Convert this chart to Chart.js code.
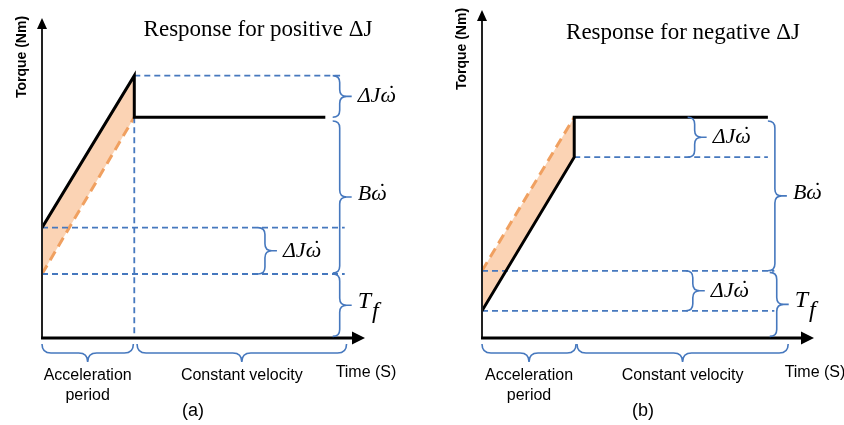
<!DOCTYPE html>
<html><head><meta charset="utf-8">
<script src="https://cdn.jsdelivr.net/npm/chart.js@4/dist/chart.umd.min.js"></script>
<style>
html,body{margin:0;padding:0;background:#fff;}
#wrap{position:relative;width:844px;height:425px;overflow:hidden;}
.panel{position:absolute;top:0;width:422px;height:425px;}
</style></head><body>
<div id="wrap">
<div class="panel" style="left:0"><canvas id="ca" width="422" height="425"></canvas></div>
<div class="panel" style="left:422px"><canvas id="cb" width="422" height="425"></canvas></div>
</div>
<script>
// ================= DATA =================
// Panel (a): response for positive ΔJ
const aTitle = "Response for positive \u0394J";
const aActualTime   = [0, 1, 1, 3.07];
const aActualTorque = [3.45, 8.2, 6.9, 6.9];
const aNominalTime   = [0, 1];
const aNominalTorque = [2.0, 6.9];
// guide lines: [t0, torque0, t1, torque1]
const aGuides = [[1, 8.2, 3.23, 8.2], [0, 3.45, 3.28, 3.45], [0, 2.0, 3.28, 2.0], [1, 6.9, 1, 0]];
// vertical braces: [time, torqueTop, torqueBottom, label]
const aBraces = [[3.15, 8.2, 6.9, "dJ"], [3.15, 6.78, 2.03, "B"], [2.34, 3.45, 2.0, "dJ"], [3.15, 2.0, 0.05, "Tf"]];
// time braces: [t0, t1, label]
const aPeriods = [[0, 0.99, "Acceleration|period"], [1.03, 3.30, "Constant velocity"]];

// Panel (b): response for negative ΔJ
const bTitle = "Response for negative \u0394J";
const bActualTime   = [0, 1, 1, 3.10];
const bActualTorque = [0.85, 5.65, 6.9, 6.9];
const bNominalTime   = [0, 1];
const bNominalTorque = [2.1, 6.9];
const bGuides = [[1, 5.65, 3.10, 5.65], [0, 2.1, 3.17, 2.1], [0, 0.85, 3.17, 0.85]];
const bBraces = [[2.23, 6.9, 5.65, "dJ"], [3.10, 6.78, 2.1, "B"], [2.21, 2.1, 0.85, "dJ"], [3.12, 2.05, 0.05, "Tf"]];
const bPeriods = [[0, 1.02, "Acceleration|period"], [1.03, 3.32, "Constant velocity"]];

// ================= STYLE / DRAWING =================
const BLUE = '#4678BE';
const ORANGE = '#F0A060';
const PEACH = '#FBD3B4';

function pts(ts, ys){ return ts.map((t,i)=>({x:t, y:ys[i]})); }

function braceV(ctx, x, y1, y2, w, tail){
  const r = Math.min(w/2, Math.abs(y2-y1)/4);
  const xm = x + w/2, ym = (y1+y2)/2;
  ctx.beginPath();
  ctx.moveTo(x, y1);
  ctx.quadraticCurveTo(xm, y1, xm, y1 + r);
  ctx.lineTo(xm, ym - r);
  ctx.quadraticCurveTo(xm, ym, x + w, ym);
  ctx.quadraticCurveTo(xm, ym, xm, ym + r);
  ctx.lineTo(xm, y2 - r);
  ctx.quadraticCurveTo(xm, y2, x, y2);
  ctx.moveTo(x + w, ym); ctx.lineTo(x + w + tail, ym);
  ctx.stroke();
}
function braceH(ctx, x1, x2, y, h){
  const r = Math.min(h/2, (x2-x1)/4);
  const ym = y + h/2, xm = (x1+x2)/2;
  ctx.beginPath();
  ctx.moveTo(x1, y);
  ctx.quadraticCurveTo(x1, ym, x1 + r, ym);
  ctx.lineTo(xm - r, ym);
  ctx.quadraticCurveTo(xm, ym, xm, y + h);
  ctx.quadraticCurveTo(xm, ym, xm + r, ym);
  ctx.lineTo(x2 - r, ym);
  ctx.quadraticCurveTo(x2, ym, x2, y);
  ctx.stroke();
}
// draws prefix + omega with a dot above (ω̇)
function omegaDot(ctx, prefix, x, y){
  ctx.textAlign = 'left';
  ctx.fillText(prefix + '\u03C9', x, y);
  const wp = ctx.measureText(prefix).width, wo = ctx.measureText('\u03C9').width;
  ctx.textAlign = 'center';
  ctx.fillText('\u02D9', x + wp + wo / 2 + 2, y - 2);
  ctx.textAlign = 'left';
}

function makePanel(id, cfg){
  const datasets = [
    { data: pts(cfg.actualTime.slice(0,2), cfg.actualTorque.slice(0,2)), borderWidth: 0, borderColor: 'rgba(0,0,0,0)',
      backgroundColor: PEACH, fill: 1, order: 5 },
    { data: pts(cfg.nominalTime, cfg.nominalTorque), borderColor: ORANGE, borderWidth: 3, borderDash: [10, 6], fill: false, order: 3 },
    { data: pts(cfg.actualTime, cfg.actualTorque), borderColor: '#000', borderWidth: 3, fill: false, order: 0, borderCapStyle: 'butt', borderJoinStyle: 'miter' }
  ];
  cfg.guides.forEach(g => datasets.push({ data: [{x:g[0], y:g[1]}, {x:g[2], y:g[3]}], borderColor: BLUE, borderWidth: 1.8, borderDash: [6, 4], fill: false, order: 2 }));

  const deco = {
    id: 'deco',
    afterDatasetsDraw(chart){
      const ctx = chart.ctx, xs = chart.scales.x, ys = chart.scales.y, ca = chart.chartArea;
      ctx.save();
      // axes
      const x0 = xs.getPixelForValue(0), y0 = ys.getPixelForValue(0);
      ctx.strokeStyle = '#222'; ctx.fillStyle = '#000';
      ctx.lineWidth = 2;
      ctx.beginPath(); ctx.moveTo(x0, y0); ctx.lineTo(x0, ca.top + 8); ctx.stroke();
      ctx.beginPath(); ctx.moveTo(x0, ca.top); ctx.lineTo(x0 - 5, ca.top + 11); ctx.lineTo(x0 + 5, ca.top + 11); ctx.closePath(); ctx.fill();
      ctx.strokeStyle = '#000'; ctx.lineWidth = 3;
      ctx.beginPath(); ctx.moveTo(x0 - 1, y0); ctx.lineTo(ca.right - 10, y0); ctx.stroke();
      ctx.beginPath(); ctx.moveTo(ca.right, y0); ctx.lineTo(ca.right - 13, y0 - 6.5); ctx.lineTo(ca.right - 13, y0 + 6.5); ctx.closePath(); ctx.fill();

      // vertical braces
      cfg.braces.forEach(b => {
        const x = xs.getPixelForValue(b[0]);
        const y1 = ys.getPixelForValue(b[1]), y2 = ys.getPixelForValue(b[2]);
        ctx.strokeStyle = BLUE; ctx.lineWidth = 1.6;
        braceV(ctx, x, y1, y2, 14, 5);
        const lx = x + 14 + 11, ly = (y1 + y2) / 2;
        ctx.fillStyle = '#000'; ctx.textBaseline = 'middle'; ctx.textAlign = 'left';
        if (b[3] === 'Tf') {
          ctx.font = 'italic 24px "Liberation Serif"';
          ctx.fillText('T', lx, ly - 4);
          const w = ctx.measureText('T').width;
          ctx.fillText('f', lx + w + 1, ly + 6);
        } else if (b[3] === 'B') {
          ctx.font = 'italic 22px "Liberation Serif"';
          omegaDot(ctx, 'B', lx, ly - 3);
        } else {
          ctx.font = 'italic 22px "Liberation Serif"';
          omegaDot(ctx, '\u0394J', lx, ly);
        }
      });
      // time braces
      cfg.periods.forEach(p => {
        const xa = xs.getPixelForValue(p[0]), xb = xs.getPixelForValue(p[1]);
        ctx.strokeStyle = BLUE; ctx.lineWidth = 1.6;
        braceH(ctx, xa, xb, y0 + 6, 18);
        ctx.fillStyle = '#000'; ctx.textAlign = 'center'; ctx.textBaseline = 'middle';
        ctx.font = '16px "Liberation Sans"';
        const lines = p[2].split('|');
        lines.forEach((s, i) => ctx.fillText(s, (xa + xb) / 2, y0 + 38 + i * 20));
      });
      // texts
      ctx.fillStyle = '#000'; ctx.textAlign = 'center'; ctx.textBaseline = 'middle';
      ctx.font = '23px "Liberation Serif"';
      ctx.fillText(cfg.title, cfg.titleX, cfg.titleY);
      ctx.font = '16px "Liberation Sans"';
      ctx.fillText('Time (S)', ca.right + 1, y0 + 35);
      ctx.font = '18px "Liberation Sans"';
      ctx.fillText(cfg.tag, cfg.tagX, y0 + 73);
      ctx.save();
      ctx.translate(x0 - 20, cfg.torqueY);
      ctx.rotate(-Math.PI / 2);
      ctx.font = 'bold 14px "Liberation Sans"';
      ctx.fillText('Torque (Nm)', 0, 0);
      ctx.restore();
      ctx.restore();
    }
  };

  return new Chart(document.getElementById(id), {
    type: 'line',
    data: { datasets },
    options: {
      responsive: false, animation: false, events: [],
      devicePixelRatio: 1,
      layout: { padding: cfg.padding },
      elements: { point: { radius: 0 }, line: { tension: 0 } },
      plugins: { legend: { display: false }, tooltip: { enabled: false }, title: { display: false } },
      scales: {
        x: { type: 'linear', display: false, min: 0, max: cfg.xMax },
        y: { type: 'linear', display: false, min: 0, max: cfg.yMax }
      }
    },
    plugins: [deco]
  });
}

makePanel('ca', {
  actualTime: aActualTime, actualTorque: aActualTorque, nominalTime: aNominalTime, nominalTorque: aNominalTorque,
  guides: aGuides, braces: aBraces, periods: aPeriods, title: aTitle, titleX: 258, titleY: 30,
  tag: '(a)', tagX: 193, torqueY: 57,
  padding: { left: 42, top: 18, right: 57, bottom: 87 }, xMax: 3.5, yMax: 10
});
makePanel('cb', {
  actualTime: bActualTime, actualTorque: bActualTorque, nominalTime: bNominalTime, nominalTorque: bNominalTorque,
  guides: bGuides, braces: bBraces, periods: bPeriods, title: bTitle, titleX: 261, titleY: 33,
  tag: '(b)', tagX: 221, torqueY: 49,
  padding: { left: 60, top: 10, right: 30, bottom: 87 }, xMax: 3.6, yMax: 10.25
});
</script>
</body></html>
